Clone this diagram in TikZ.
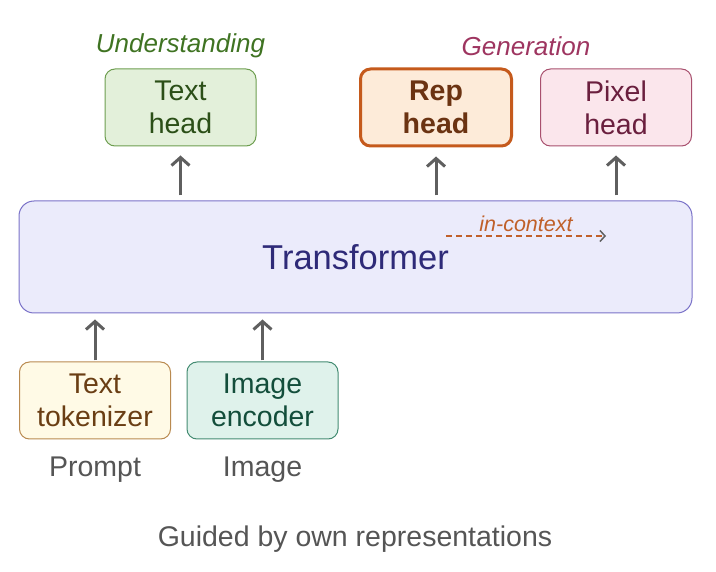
\documentclass[tikz,border=0pt]{standalone}
\usepackage{fontspec}
\setmainfont{Liberation Sans}
\usetikzlibrary{arrows.meta,positioning}

\definecolor{arrgray}{HTML}{5F5F5F}
\definecolor{lblgray}{HTML}{555555}
\definecolor{thfill}{HTML}{E3F0DA}
\definecolor{thdraw}{HTML}{6E9E50}
\definecolor{thtext}{HTML}{2B4F17}
\definecolor{undtext}{HTML}{3F7322}
\definecolor{rhfill}{HTML}{FDEBD9}
\definecolor{rhdraw}{HTML}{C55A1C}
\definecolor{rhtext}{HTML}{6B3312}
\definecolor{phfill}{HTML}{FBE6EC}
\definecolor{phdraw}{HTML}{A8506E}
\definecolor{phtext}{HTML}{6A1F3E}
\definecolor{gentext}{HTML}{9E3560}
\definecolor{trfill}{HTML}{EBEBFB}
\definecolor{trdraw}{HTML}{7A72C8}
\definecolor{trtext}{HTML}{2E2A78}
\definecolor{ictext}{HTML}{C0602A}
\definecolor{ttfill}{HTML}{FFFAE6}
\definecolor{ttdraw}{HTML}{B98A50}
\definecolor{tttext}{HTML}{6A3E14}
\definecolor{iefill}{HTML}{DFF2EB}
\definecolor{iedraw}{HTML}{448C72}
\definecolor{ietext}{HTML}{134E3B}

\begin{document}
\begin{tikzpicture}[x=1pt,y=-1pt,
	box/.style={draw,rounded corners=10pt,minimum width=151pt,minimum height=77pt,
		inner sep=0pt,align=center,line width=1pt,font=\fontsize{28.5}{33}\selectfont},
	arr/.style={draw=arrgray,line width=3pt,-{Straight Barb[length=8pt,width=18pt]},
		shorten <=5pt,shorten >=9pt},
	lbl/.style={text=lblgray,font=\fontsize{28.5}{32}\selectfont}
	]
	\useasboundingbox (0,0) rectangle (716,572);
	\node[box,fill=thfill,draw=thdraw,text=thtext] (texthead) at (180.5,107.5) {Text\\head};
	\node[box,fill=rhfill,draw=rhdraw,text=rhtext,line width=3pt,font=\fontsize{28.5}{33}\selectfont\bfseries] (rephead) at (436,107.5) {Rep\\head};
	\node[box,fill=phfill,draw=phdraw,text=phtext] (pixelhead) at (616,107.5) {Pixel\\head};
	\node[text=undtext,font=\fontsize{26}{30}\selectfont\itshape] (und) at (180.5,46) {Understanding};
	\node[text=gentext,font=\fontsize{26}{30}\selectfont\itshape] (gen) at (526,46) {Generation};
	\node[box,fill=trfill,draw=trdraw,text=trtext,minimum width=673pt,minimum height=112pt,
		rounded corners=15pt,font=\fontsize{34.5}{40}\selectfont] (transformer) at (355.5,257) {Transformer};
	\coordinate (ic-a) at (446,236);
	\coordinate (ic-b) at (606,236);
	\draw[ictext,line width=1.5pt,dash pattern=on 6pt off 4pt,-{Straight Barb[length=5pt,width=11pt,color=arrgray]}] (ic-a) -- (ic-b)
		node[midway,above=0pt,text=ictext,font=\fontsize{21.5}{24}\selectfont\itshape] (incontext) {in-context};
	\node[box,fill=ttfill,draw=ttdraw,text=tttext] (tokenizer) at (95,400.5) {Text\\tokenizer};
	\node[box,fill=iefill,draw=iedraw,text=ietext] (encoder) at (262.5,400.5) {Image\\encoder};
	\node[lbl] (prompt) at (95,470) {Prompt};
	\node[lbl] (image) at (262.5,470) {Image};
	\node[lbl] (guided) at (355,539) {Guided by own representations};
	\draw[arr] (transformer.north -| texthead) -- (texthead);
	\draw[arr] (transformer.north -| rephead) -- (rephead);
	\draw[arr] (transformer.north -| pixelhead) -- (pixelhead);
	\draw[arr,shorten <=1pt,shorten >=6pt] (tokenizer) -- (tokenizer |- transformer.south);
	\draw[arr,shorten <=1pt,shorten >=6pt] (encoder) -- (encoder |- transformer.south);
\end{tikzpicture}
\end{document}
